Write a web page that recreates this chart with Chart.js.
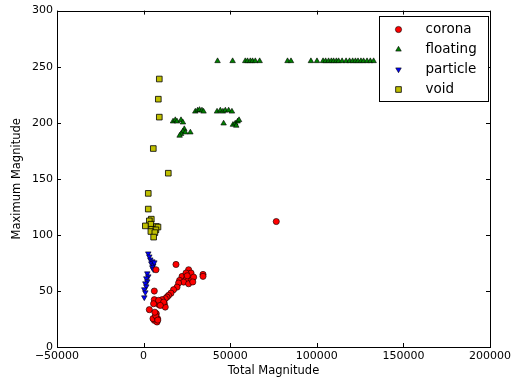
<!DOCTYPE html>
<html>
<head>
<meta charset="utf-8">
<script src="https://cdn.jsdelivr.net/npm/chart.js"></script>
<style>
  html, body { margin: 0; padding: 0; background: #fff; }
</style>
</head>
<body>
<canvas id="magChart" width="519" height="381"></canvas>
<script>
// values
const coronaX = [18700, 26000, 27400, 34300, 34300, 22200, 24700, 20800, 23100, 26000, 27900, 28900,
  20200, 19300, 17300, 15800, 14400, 13500, 12500, 10600, 9640, 11950, 8660, 12500, 6180, 7330, 6760,
  6180, 7740, 5430, 8080, 7160, 3300, 6180, 5770, 8660, 11550, 9640, 76600, 7000, 6500, 8200, 24500,
  25200, 28400];
const coronaY = [73.6, 68.9, 65.9, 64.7, 63.0, 62.9, 60.9, 59.4, 57.9, 56.4, 60.0, 62.3,
  57.0, 53.4, 51.1, 48.0, 46.0, 44.5, 43.1, 42.2, 40.0, 38.6, 38.0, 35.6, 49.9, 29.7, 26.7,
  23.8, 22.3, 25.3, 25.3, 68.9, 33.3, 42.2, 38.6, 41.6, 40.0, 37.1, 111.9, 28.0, 31.0, 24.0, 66.0,
  63.5, 58.0];

const floatingX = [42700, 51400, 58700, 60000, 61600, 62900, 64500, 67000, 83100, 85100, 96600, 100100,
  103600, 105100, 106800, 108400, 109700, 111300, 112600, 114600, 116900, 118900, 120700, 122300,
  123800, 125500, 127000, 129000, 130900, 132800,
  29850, 31200, 32300, 33700, 34600, 42400, 44300, 45800, 47200, 49100, 51000,
  46200, 51600, 52900, 54300, 55100, 53500,
  17000, 18300, 19300, 21600, 22700, 23500, 22700, 21600, 20800, 27000, 24100];
const floatingY = [255, 255, 255, 255, 255, 255, 255, 255, 255, 255, 255, 255,
  255, 255, 255, 255, 255, 255, 255, 255, 255, 255, 255, 255,
  255, 255, 255, 255, 255, 255,
  210, 211, 211.5, 211, 210, 210, 211, 210, 211, 211, 210,
  199.4, 198.2, 199.4, 201.2, 202.4, 197.4,
  201.2, 202.4, 201.2, 202.4, 200.3, 194.4, 192.3, 190, 188.5, 191.4, 191.4];

const particleX = [2700, 3300, 3870, 5020, 4450, 5600, 5020, 6200, 5600, 2140, 2700, 1560, 2140,
  1000, 1560, 400, 1000, 400];
const particleY = [83.4, 80.7, 78, 76.3, 74.5, 72.7, 71, 75.4, 69.2, 65.6, 62.9, 61.2, 58.5,
  56.7, 54, 51.4, 48.7, 44.2];

const voidX = [9065, 8500, 9065, 5600, 14260, 2700, 2700, 4450, 3300, 4200, 1000, 7360, 8300,
  4600, 7100, 4200, 6500, 5800];
const voidY = [239, 221, 205, 177, 155, 137, 123, 114, 112.5, 109.5, 108, 107.5, 107,
  105, 104.5, 103, 102, 98];

const xTickMin = -50000, xTickMax = 200000, xTickStep = 50000;
const yTickMin = 0, yTickMax = 300, yTickStep = 50;

const toPoints = (xs, ys) => xs.map((x, i) => ({ x: x, y: ys[i] }));

const fontName = "'DejaVu Sans', sans-serif";

const frameAndLegend = {
  id: 'frameAndLegend',
  afterDraw(chart) {
    const ctx = chart.ctx;
    const a = chart.chartArea;
    const xs = chart.scales.x;
    const ys = chart.scales.y;
    ctx.save();
    ctx.strokeStyle = '#000';
    ctx.lineWidth = 1;
    ctx.strokeRect(Math.round(a.left) + 0.5, Math.round(a.top) + 0.5,
      Math.round(a.right - a.left), Math.round(a.bottom - a.top));
    const tl = 4;
    ctx.beginPath();
    xs.ticks.forEach((t) => {
      const px = Math.round(xs.getPixelForValue(t.value)) + 0.5;
      ctx.moveTo(px, a.bottom); ctx.lineTo(px, a.bottom - tl);
      ctx.moveTo(px, a.top); ctx.lineTo(px, a.top + tl);
    });
    ys.ticks.forEach((t) => {
      const py = Math.round(ys.getPixelForValue(t.value)) + 0.5;
      ctx.moveTo(a.left, py); ctx.lineTo(a.left + tl, py);
      ctx.moveTo(a.right, py); ctx.lineTo(a.right - tl, py);
    });
    ctx.stroke();

    // legend box in the upper right corner
    const bx = 379.5, by = 16.5, bw = 109, bh = 85;
    ctx.fillStyle = '#fff';
    ctx.fillRect(bx, by, bw, bh);
    ctx.strokeRect(bx, by, bw, bh);
    ctx.font = '13.5px ' + fontName;
    ctx.textBaseline = 'middle';
    ctx.textAlign = 'left';
    chart.data.datasets.forEach((ds, i) => {
      const cy = by + 13 + i * 20;
      ctx.fillStyle = ds.backgroundColor;
      ctx.strokeStyle = '#000';
      ctx.lineWidth = ds.borderWidth;
      Chart.helpers.drawPoint(ctx, {
        pointStyle: ds.pointStyle,
        radius: ds.pointRadius,
        rotation: ds.rotation || 0,
        borderWidth: ds.borderWidth
      }, bx + 19, cy);
      ctx.fillStyle = '#000';
      ctx.fillText(ds.label, bx + 46, cy);
    });
    ctx.restore();
  }
};

const tickText = (v) => (v < 0 ? '\u2212' + Math.abs(v) : String(v));

new Chart(document.getElementById('magChart').getContext('2d'), {
  type: 'scatter',
  data: {
    datasets: [
      {
        label: 'corona',
        data: toPoints(coronaX, coronaY),
        pointStyle: 'circle',
        pointRadius: 3.1,
        backgroundColor: '#ff0000',
        borderColor: '#000',
        borderWidth: 0.6
      },
      {
        label: 'floating',
        data: toPoints(floatingX, floatingY),
        pointStyle: 'triangle',
        pointRadius: 3.2,
        backgroundColor: '#008000',
        borderColor: '#000',
        borderWidth: 0.6
      },
      {
        label: 'particle',
        data: toPoints(particleX, particleY),
        pointStyle: 'triangle',
        rotation: 180,
        pointRotation: 180,
        pointRadius: 3.2,
        backgroundColor: '#0000ff',
        borderColor: '#000',
        borderWidth: 0.6
      },
      {
        label: 'void',
        data: toPoints(voidX, voidY),
        pointStyle: 'rect',
        pointRadius: 4.0,
        backgroundColor: '#bfbf00',
        borderColor: '#000',
        borderWidth: 0.8
      }
    ]
  },
  options: {
    responsive: false,
    animation: false,
    devicePixelRatio: 1,
    layout: { padding: { top: 10, right: 29, left: 0, bottom: 0 } },
    plugins: {
      legend: { display: false },
      tooltip: { enabled: false }
    },
    scales: {
      x: {
        type: 'linear',
        min: xTickMin,
        max: xTickMax,
        afterFit: (s) => { s.height = 34; },
        grid: { display: false, drawTicks: false },
        border: { display: false },
        ticks: {
          stepSize: xTickStep,
          padding: 3,
          maxRotation: 0,
          color: '#000',
          font: { family: fontName, size: 11 },
          callback: tickText
        },
        title: {
          display: true,
          text: 'Total Magnitude',
          color: '#000',
          font: { family: fontName, size: 11.5 },
          padding: { top: 0, bottom: 3 }
        }
      },
      y: {
        type: 'linear',
        min: yTickMin,
        max: yTickMax,
        afterFit: (s) => { s.width = 57; },
        grid: { display: false, drawTicks: false },
        border: { display: false },
        ticks: {
          stepSize: yTickStep,
          padding: 4,
          color: '#000',
          font: { family: fontName, size: 11 },
          callback: tickText
        },
        title: {
          display: true,
          text: 'Maximum Magnitude',
          color: '#000',
          font: { family: fontName, size: 11.5 },
          padding: { top: 10, bottom: 0 }
        }
      }
    }
  },
  plugins: [frameAndLegend]
});
</script>
</body>
</html>
